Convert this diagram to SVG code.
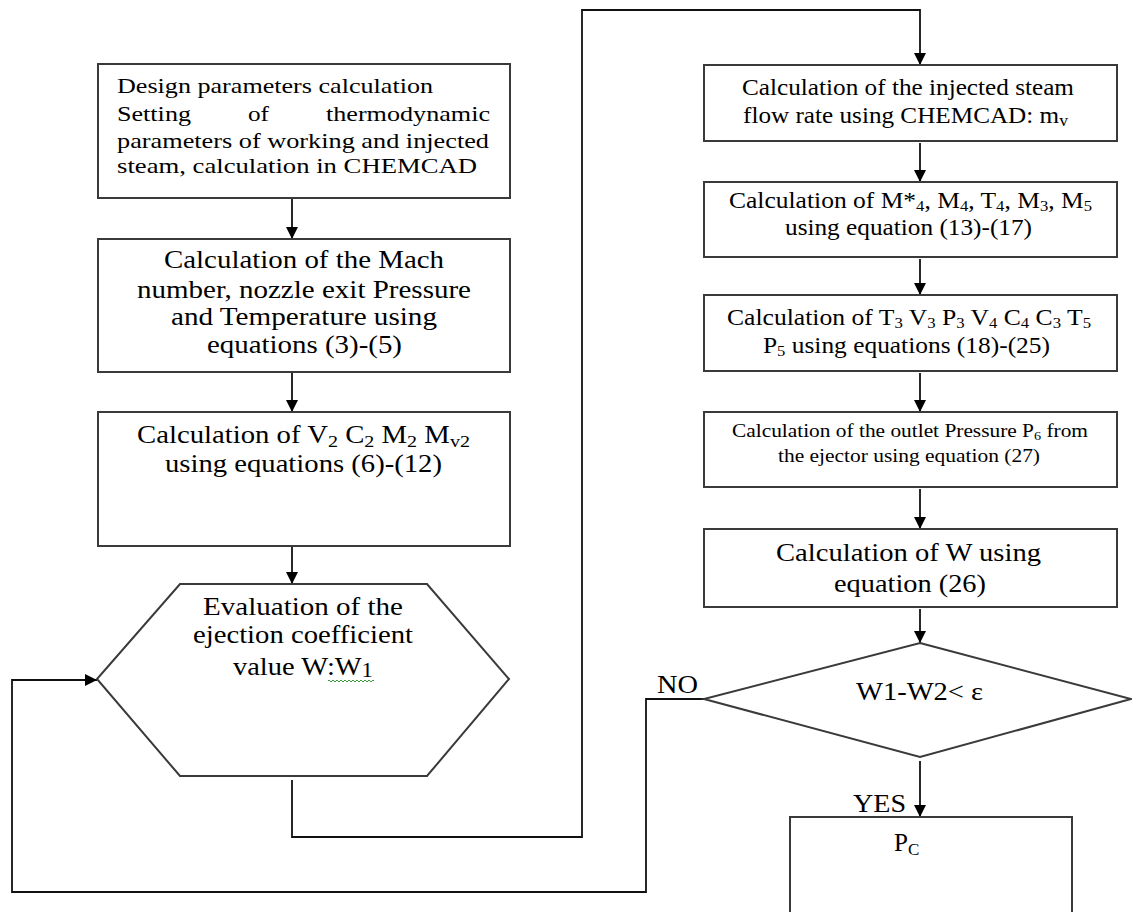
<svg xmlns="http://www.w3.org/2000/svg" width="1132" height="912" viewBox="0 0 1132 912">
<style>
.box{fill:#fff;stroke:#3a3a3a;stroke-width:2}
.t{font-family:"Liberation Serif","Times New Roman",serif;fill:#000}
.c{fill:none;stroke:#111;stroke-width:1.8}
.sub{font-size:70%}
</style>
<defs>
<marker id="ah" markerUnits="userSpaceOnUse" markerWidth="12" markerHeight="12" viewBox="0 0 12 12" refX="12" refY="6" orient="auto">
<path d="M0,0 L12,6 L0,12 z" fill="#000"/>
</marker>
</defs>
<rect width="1132" height="912" fill="#fff"/>

<g id="connectors">
<path class="c" d="M292 199 V239" marker-end="url(#ah)"/>
<path class="c" d="M292 373 V412" marker-end="url(#ah)"/>
<path class="c" d="M292 547 V584" marker-end="url(#ah)"/>
<path class="c" d="M292 780 V837 H582 V10 H920 V65" marker-end="url(#ah)"/>
<path class="c" d="M920 143 V182" marker-end="url(#ah)"/>
<path class="c" d="M920 259 V295" marker-end="url(#ah)"/>
<path class="c" d="M920 373 V412" marker-end="url(#ah)"/>
<path class="c" d="M920 489 V529" marker-end="url(#ah)"/>
<path class="c" d="M920 609 V643" marker-end="url(#ah)"/>
<path class="c" d="M920 761 V817" marker-end="url(#ah)"/>
<path class="c" d="M704 699 H646 V892 H12 V680 H97" marker-end="url(#ah)"/>
</g>

<g id="design-params">
<rect class="box" x="98" y="64" width="412" height="134"/>
<text class="t" font-size="22" x="117" y="93" textLength="316" lengthAdjust="spacingAndGlyphs">Design parameters calculation</text>
<text class="t" font-size="22" x="117" y="121" textLength="74" lengthAdjust="spacingAndGlyphs">Setting</text>
<text class="t" font-size="22" x="248" y="121" textLength="21" lengthAdjust="spacingAndGlyphs">of</text>
<text class="t" font-size="22" x="326" y="121" textLength="164" lengthAdjust="spacingAndGlyphs">thermodynamic</text>
<text class="t" font-size="22" x="117" y="148" textLength="372" lengthAdjust="spacingAndGlyphs">parameters of working and injected</text>
<text class="t" font-size="22" x="117" y="173" textLength="360" lengthAdjust="spacingAndGlyphs">steam, calculation in CHEMCAD</text>
</g>

<g id="mach-number">
<rect class="box" x="98" y="239" width="412" height="133"/>
<text class="t" font-size="25" x="164" y="268" textLength="280" lengthAdjust="spacingAndGlyphs">Calculation of the Mach</text>
<text class="t" font-size="25" x="137" y="298" textLength="334" lengthAdjust="spacingAndGlyphs">number, nozzle exit Pressure</text>
<text class="t" font-size="25" x="171" y="325" textLength="266" lengthAdjust="spacingAndGlyphs">and Temperature using</text>
<text class="t" font-size="25" x="207" y="353" textLength="195" lengthAdjust="spacingAndGlyphs">equations (3)-(5)</text>
</g>

<g id="v2-c2-m2">
<rect class="box" x="98" y="412" width="412" height="134"/>
<text class="t" font-size="25" x="137" y="443" textLength="333" lengthAdjust="spacingAndGlyphs">Calculation of V<tspan class="sub" dy="4">2</tspan><tspan dy="-4"> C</tspan><tspan class="sub" dy="4">2</tspan><tspan dy="-4"> M</tspan><tspan class="sub" dy="4">2</tspan><tspan dy="-4"> M</tspan><tspan class="sub" dy="4">v2</tspan></text>
<text class="t" font-size="25" x="165" y="472" textLength="277" lengthAdjust="spacingAndGlyphs">using equations (6)-(12)</text>
</g>

<g id="ejection-coefficient">
<polygon class="box" points="180,584 427,584 509,679 427,776 180,776 97,679"/>
<text class="t" font-size="25" x="203" y="615" textLength="200" lengthAdjust="spacingAndGlyphs">Evaluation of the</text>
<text class="t" font-size="25" x="193" y="643" textLength="220" lengthAdjust="spacingAndGlyphs">ejection coefficient</text>
<text class="t" font-size="25" x="233" y="675" textLength="140" lengthAdjust="spacingAndGlyphs">value W:W<tspan font-size="20" dy="2">1</tspan></text>
<path d="M328,681 q1,-2 2,0 t2,0 t2,0 t2,0 t2,0 t2,0 t2,0 t2,0 t2,0 t2,0 t2,0 t2,0 t2,0 t2,0 t2,0 t2,0 t2,0 t2,0 t2,0 t2,0 t2,0 t2,0 t2,0" fill="none" stroke="#3c9a3c" stroke-width="1"/>
</g>

<g id="injected-steam">
<rect class="box" x="704" y="65" width="413" height="76"/>
<text class="t" font-size="23" x="742" y="95" textLength="332" lengthAdjust="spacingAndGlyphs">Calculation of the injected steam</text>
<text class="t" font-size="23" x="743" y="123" textLength="325" lengthAdjust="spacingAndGlyphs">flow rate using CHEMCAD: m<tspan class="sub" font-size="14" dy="3">v</tspan></text>
</g>

<g id="m4-t4">
<rect class="box" x="704" y="182" width="413" height="75"/>
<text class="t" font-size="23" x="729" y="208" textLength="363" lengthAdjust="spacingAndGlyphs">Calculation of M*<tspan font-size="15" dy="3">4</tspan><tspan dy="-3">, M</tspan><tspan font-size="15" dy="3">4</tspan><tspan dy="-3">, T</tspan><tspan font-size="15" dy="3">4</tspan><tspan dy="-3">, M</tspan><tspan font-size="15" dy="3">3</tspan><tspan dy="-3">, M</tspan><tspan font-size="15" dy="3">5</tspan></text>
<text class="t" font-size="23" x="785" y="235" textLength="247" lengthAdjust="spacingAndGlyphs">using equation (13)-(17)</text>
</g>

<g id="t3-v3-p3">
<rect class="box" x="704" y="295" width="413" height="76"/>
<text class="t" font-size="23" x="727" y="325" textLength="364" lengthAdjust="spacingAndGlyphs">Calculation of T<tspan font-size="15" dy="3">3</tspan><tspan dy="-3"> V</tspan><tspan font-size="15" dy="3">3</tspan><tspan dy="-3"> P</tspan><tspan font-size="15" dy="3">3</tspan><tspan dy="-3"> V</tspan><tspan font-size="15" dy="3">4</tspan><tspan dy="-3"> C</tspan><tspan font-size="15" dy="3">4</tspan><tspan dy="-3"> C</tspan><tspan font-size="15" dy="3">3</tspan><tspan dy="-3"> T</tspan><tspan font-size="15" dy="3">5</tspan></text>
<text class="t" font-size="23" x="763" y="353" textLength="287" lengthAdjust="spacingAndGlyphs">P<tspan font-size="15" dy="3">5</tspan><tspan dy="-3"> using equations (18)-(25)</tspan></text>
</g>

<g id="outlet-pressure">
<rect class="box" x="704" y="412" width="413" height="75"/>
<text class="t" font-size="19.5" x="732" y="437" textLength="356" lengthAdjust="spacingAndGlyphs">Calculation of the outlet Pressure P<tspan font-size="13" dy="3">6</tspan><tspan dy="-3"> from</tspan></text>
<text class="t" font-size="19.5" x="778" y="462" textLength="262" lengthAdjust="spacingAndGlyphs">the ejector using equation (27)</text>
</g>

<g id="calc-w">
<rect class="box" x="704" y="529" width="413" height="78"/>
<text class="t" font-size="25" x="776" y="561" textLength="265" lengthAdjust="spacingAndGlyphs">Calculation of W using</text>
<text class="t" font-size="25" x="834" y="592" textLength="152" lengthAdjust="spacingAndGlyphs">equation (26)</text>
</g>

<g id="convergence-test">
<polygon class="box" points="920,643 1131,699 920,757 704,699"/>
<text class="t" font-size="25" x="856" y="700" textLength="127" lengthAdjust="spacingAndGlyphs">W1-W2&lt; ε</text>
</g>

<g id="labels">
<text class="t" font-size="25" x="657" y="693" textLength="41" lengthAdjust="spacingAndGlyphs">NO</text>
<text class="t" font-size="25" x="853" y="812" textLength="53" lengthAdjust="spacingAndGlyphs">YES</text>
</g>

<g id="pc">
<rect class="box" x="790" y="817" width="282" height="110"/>
<text class="t" font-size="25" x="894" y="851">P<tspan font-size="17" dy="4">C</tspan></text>
</g>
</svg>
